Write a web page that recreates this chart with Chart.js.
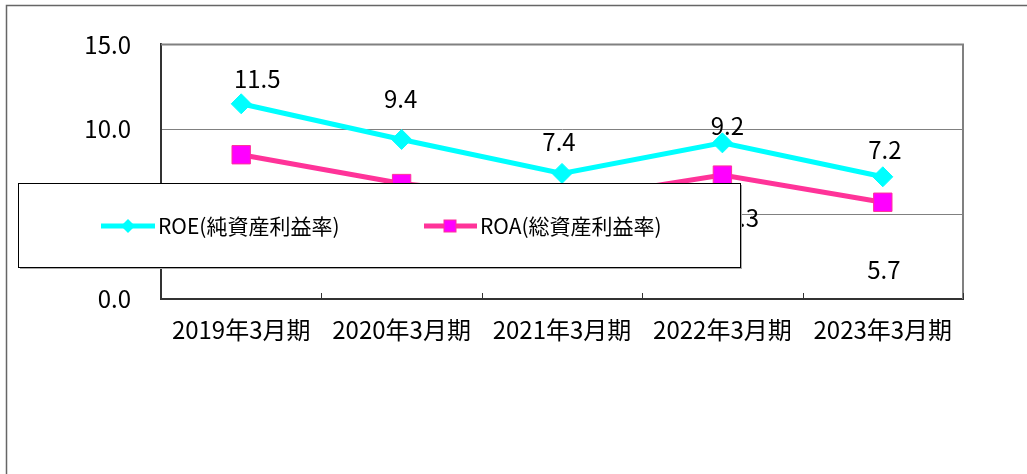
<!DOCTYPE html>
<html lang="ja">
<head>
<meta charset="utf-8">
<title>ROE・ROAの推移</title>
<script src="https://cdn.jsdelivr.net/npm/chart.js@4.4.1/dist/chart.umd.min.js"></script>
<style>
  html, body { margin: 0; padding: 0; background: #fff; }
  canvas { display: block; }
</style>
</head>
<body>
<canvas id="ratioChart" width="1027" height="474"></canvas>
<script>
// ── data ─────────────────────────────────────────
const PERIODS = ['2019年3月期', '2020年3月期', '2021年3月期', '2022年3月期', '2023年3月期'];
const ROE = [11.5, 9.4, 7.4, 9.2, 7.2];
const ROA = [8.5, 6.8, 5.8, 7.3, 5.7];
const SERIES = ['ROE(純資産利益率)', 'ROA(総資産利益率)'];
const Y_TICKS = [0, 5, 10, 15];

// label nudges in px (the original labels were placed by hand)
const ROE_DX = [16, -1, -3, 5, 2];
const ROE_DY = [-25, -41, -32, -17, -27];
const ROA_DX = [9, 0, 0, 20, 1];
const ROA_DY = [39, 40, 40, 43, 68];

const FONT = '"Noto Sans CJK JP", "Noto Sans", sans-serif';
const CYAN = '#00FFFF';
const PINK = '#FF3399';
const MAGENTA = '#FF00FF';
const GRID = '#808080';
const AXIS = '#333333';

Chart.defaults.font.family = FONT;
Chart.defaults.color = '#000';

/* ── frame, plot border, inward category ticks ─── */
const framePlugin = {
  id: 'frame',
  beforeDraw(chart) {
    const ctx = chart.ctx;
    ctx.save();
    ctx.strokeStyle = '#666';
    ctx.lineWidth = 1.5;
    ctx.beginPath();
    ctx.moveTo(6.5, chart.height);
    ctx.lineTo(6.5, 5.5);
    ctx.lineTo(chart.width, 5.5);
    ctx.stroke();
    ctx.restore();
  },
  beforeDatasetsDraw(chart) {
    const { ctx, chartArea: a, scales } = chart;
    ctx.save();
    ctx.strokeStyle = GRID;
    ctx.lineWidth = 2;
    ctx.beginPath();
    ctx.moveTo(a.left, a.top);
    ctx.lineTo(a.right, a.top);
    ctx.lineTo(a.right, a.bottom);
    ctx.stroke();

    // small tick marks pointing up at the category boundaries
    const x = scales.x;
    const band = (x.right - x.left) / PERIODS.length;
    ctx.strokeStyle = AXIS;
    ctx.lineWidth = 1;
    for (let i = 1; i <= PERIODS.length; i++) {
      const px = Math.round(x.getPixelForValue(i - 1) + band / 2) + 0.5;
      ctx.beginPath();
      ctx.moveTo(px, a.bottom);
      ctx.lineTo(px, a.bottom - 6);
      ctx.stroke();
    }
    ctx.restore();
  },
};

/* ── value labels ─────────────────────────────── */
const labelPlugin = {
  id: 'valueLabels',
  afterDatasetsDraw(chart) {
    const ctx = chart.ctx;
    const nudges = [[ROE_DX, ROE_DY], [ROA_DX, ROA_DY]];
    ctx.save();
    ctx.font = '24px ' + FONT;
    ctx.fillStyle = '#000';
    ctx.textAlign = 'center';
    ctx.textBaseline = 'middle';
    chart.data.datasets.forEach((ds, di) => {
      const meta = chart.getDatasetMeta(di);
      const [dx, dy] = nudges[di];
      meta.data.forEach((pt, i) => {
        ctx.fillText(ds.data[i].toFixed(1), pt.x + dx[i], pt.y + dy[i]);
      });
    });
    ctx.restore();
  },
};

/* ── legend box (drawn last, sits over the plot) ── */
const legendPlugin = {
  id: 'boxLegend',
  afterDraw(chart) {
    const ctx = chart.ctx;
    const bx = 18, by = 183, bw = 722, bh = 84;
    const cy = by + 43;
    ctx.save();
    ctx.fillStyle = '#aaa';
    ctx.fillRect(bx + 2, by + 2, bw, bh);
    ctx.fillStyle = '#fff';
    ctx.fillRect(bx, by, bw, bh);
    ctx.strokeStyle = '#000';
    ctx.lineWidth = 1;
    ctx.strokeRect(bx + 0.5, by + 0.5, bw, bh);

    // ROE sample
    ctx.strokeStyle = CYAN;
    ctx.lineWidth = 5;
    ctx.beginPath();
    ctx.moveTo(101, cy);
    ctx.lineTo(155, cy);
    ctx.stroke();
    ctx.fillStyle = CYAN;
    ctx.beginPath();
    ctx.moveTo(128 - 7, cy);
    ctx.lineTo(128, cy - 7);
    ctx.lineTo(128 + 7, cy);
    ctx.lineTo(128, cy + 7);
    ctx.closePath();
    ctx.fill();

    // ROA sample
    ctx.strokeStyle = PINK;
    ctx.beginPath();
    ctx.moveTo(424, cy);
    ctx.lineTo(477, cy);
    ctx.stroke();
    ctx.fillStyle = MAGENTA;
    ctx.fillRect(444, cy - 6, 12, 12);
    ctx.lineWidth = 1;
    ctx.strokeRect(444, cy - 6, 12, 12);

    ctx.font = '21px ' + FONT;
    ctx.fillStyle = '#000';
    ctx.textBaseline = 'middle';
    ctx.textAlign = 'left';
    ctx.fillText(SERIES[0], 158, cy);
    ctx.fillText(SERIES[1], 480, cy);
    ctx.restore();
  },
};

new Chart(document.getElementById('ratioChart'), {
  type: 'line',
  data: {
    labels: PERIODS,
    datasets: [
      {
        label: SERIES[0],
        data: ROE,
        borderColor: CYAN,
        backgroundColor: CYAN,
        borderWidth: 5,
        tension: 0,
        pointStyle: 'rectRot',
        pointRadius: 10,
        pointBorderWidth: 1,
        pointBorderColor: CYAN,
        pointBackgroundColor: CYAN,
      },
      {
        label: SERIES[1],
        data: ROA,
        borderColor: PINK,
        backgroundColor: MAGENTA,
        borderWidth: 5,
        tension: 0,
        pointStyle: 'rect',
        pointRadius: 13,
        pointBorderWidth: 1,
        pointBorderColor: PINK,
        pointBackgroundColor: MAGENTA,
      },
    ],
  },
  options: {
    responsive: false,
    animation: false,
    layout: { padding: { left: 0, top: 44, right: 64, bottom: 0 } },
    plugins: {
      legend: { display: false },
      tooltip: { enabled: false },
    },
    scales: {
      x: {
        type: 'category',
        offset: true,
        grid: { display: false },
        border: { color: AXIS, width: 2 },
        ticks: { color: '#000', font: { size: 24 }, padding: 8, maxRotation: 0, autoSkip: false },
        afterFit: s => { s.height = 175; },
      },
      y: {
        min: Y_TICKS[0],
        max: Y_TICKS[Y_TICKS.length - 1],
        afterBuildTicks: s => { s.ticks = Y_TICKS.map(v => ({ value: v })); },
        grid: {
          color: c => (c.tick && c.tick.value > Y_TICKS[0] && c.tick.value < Y_TICKS[Y_TICKS.length - 1]) ? GRID : 'rgba(0,0,0,0)',
          lineWidth: 1,
          drawTicks: false,
        },
        border: { color: AXIS, width: 2 },
        ticks: { color: '#000', font: { size: 24 }, padding: 30, callback: v => v.toFixed(1) },
        afterFit: s => { s.width = 161; },
      },
    },
  },
  plugins: [framePlugin, labelPlugin, legendPlugin],
});
</script>
</body>
</html>
